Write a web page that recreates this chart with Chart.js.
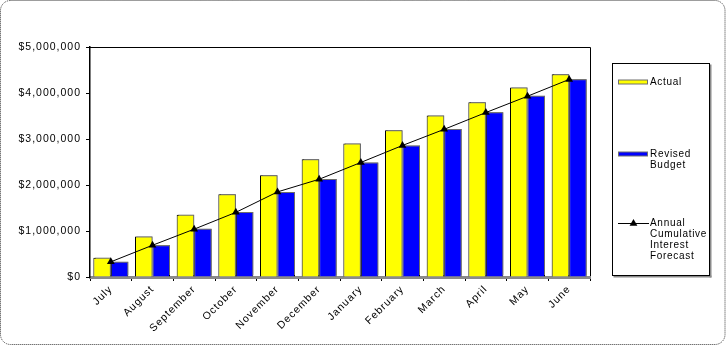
<!DOCTYPE html>
<html>
<head>
<meta charset="utf-8">
<script src="https://cdn.jsdelivr.net/npm/chart.js@4/dist/chart.umd.min.js"></script>
<style>
  html, body { margin: 0; padding: 0; background: #fff; }
  canvas { display: block; }
</style>
</head>
<body>
<canvas id="chart" width="726" height="346" style="width:726px;height:346px"></canvas>
<script>
// Monthly cumulative interest, fiscal year July - June
const months = ['July', 'August', 'September', 'October', 'November', 'December',
                'January', 'February', 'March', 'April', 'May', 'June'];
const actual = [420000, 880000, 1355000, 1800000, 2210000, 2560000,
                2900000, 3190000, 3510000, 3800000, 4120000, 4410000];
const revisedBudget = [330000, 690000, 1050000, 1415000, 1850000, 2130000,
                       2490000, 2860000, 3220000, 3580000, 3940000, 4300000];
const cumulativeForecast = [330000, 690000, 1040000, 1405000, 1850000, 2125000,
                            2490000, 2860000, 3210000, 3575000, 3930000, 4295000];
const yTicks = [0, 1000000, 2000000, 3000000, 4000000, 5000000];

const actualLabel = ['Actual'];
const budgetLabel = ['Revised', 'Budget'];
const forecastLabel = ['Annual', 'Cumulative', 'Interest', 'Forecast'];

const FONT_FAMILY = '"Liberation Sans", Arial, sans-serif';
Chart.defaults.font.family = FONT_FAMILY;
Chart.defaults.font.size = 10.5;
Chart.defaults.color = '#000';

// Wider letter spacing for all canvas text
const spacingPlugin = {
  id: 'spacing',
  beforeUpdate(chart) { chart.ctx.letterSpacing = '1px'; },
  beforeLayout(chart) { chart.ctx.letterSpacing = '1px'; },
  beforeDraw(chart) { chart.ctx.letterSpacing = '1px'; }
};

// White page with a dotted rounded frame
const framePlugin = {
  id: 'frame',
  beforeDraw(chart) {
    const ctx = chart.ctx;
    ctx.save();
    ctx.fillStyle = '#fff';
    ctx.fillRect(0, 0, chart.width, chart.height);
    ctx.strokeStyle = '#3a3a3a';
    ctx.lineWidth = 1;
    ctx.setLineDash([1, 1]);
    ctx.beginPath();
    ctx.roundRect(0.5, 0.5, chart.width - 1.5, chart.height - 2, 10);
    ctx.stroke();
    ctx.restore();
  },
  afterDraw(chart) {
    // top and right edges of the plot area
    const { ctx, chartArea: a } = chart;
    ctx.save();
    ctx.strokeStyle = '#000';
    ctx.lineWidth = 1;
    ctx.beginPath();
    ctx.moveTo(a.left, Math.round(a.top) + 0.5);
    ctx.lineTo(Math.round(a.right) + 0.5, Math.round(a.top) + 0.5);
    ctx.lineTo(Math.round(a.right) + 0.5, a.bottom - 1);
    ctx.stroke();
    ctx.restore();
  }
};

// Grey drop shadow behind the bars
const barShadowPlugin = {
  id: 'barShadow',
  beforeDatasetDraw(chart, args) {
    if (args.meta.type !== 'bar') return;
    const ctx = chart.ctx;
    ctx.save();
    ctx.shadowColor = 'rgba(120,120,120,0.9)';
    ctx.shadowOffsetX = 1.5;
    ctx.shadowOffsetY = -1.5;
    ctx.shadowBlur = 0;
  },
  afterDatasetDraw(chart, args) {
    if (args.meta.type !== 'bar') return;
    chart.ctx.restore();
  }
};

// Boxed legend on the right with multi-line entries
const sideLegendPlugin = {
  id: 'sideLegend',
  afterDraw(chart) {
    const ctx = chart.ctx;
    const box = { x: 612.5, y: 63.5, w: 97, h: 212 };
    ctx.save();
    // shadow
    ctx.fillStyle = '#8a8a8a';
    ctx.fillRect(box.x + box.w, box.y + 1, 2, box.h + 1);
    ctx.fillRect(box.x + 1, box.y + box.h, box.w + 1, 2);
    ctx.fillStyle = '#fff';
    ctx.fillRect(box.x, box.y, box.w, box.h);
    ctx.strokeStyle = '#000';
    ctx.lineWidth = 1;
    ctx.strokeRect(box.x, box.y, box.w, box.h);

    ctx.font = '10px ' + FONT_FAMILY;
    ctx.letterSpacing = '0.7px';
    ctx.textAlign = 'left';
    ctx.textBaseline = 'middle';
    ctx.fillStyle = '#000';
    const ds = chart.data.datasets;
    const byLabel = lbl => ds.find(d => d.label === lbl);
    const textX = 650;
    const lineH = 11;

    const entries = [
      { ds: byLabel(actualLabel), y: 82.5 },
      { ds: byLabel(budgetLabel), y: 154.5 },
      { ds: byLabel(forecastLabel), y: 223.5 }
    ];
    entries.forEach(e => {
      const d = e.ds;
      if (d.type === 'line') {
        ctx.strokeStyle = d.borderColor;
        ctx.lineWidth = 1;
        ctx.beginPath();
        ctx.moveTo(618, e.y);
        ctx.lineTo(649, e.y);
        ctx.stroke();
        const r = 4.5, cx = 633.5;
        ctx.fillStyle = d.pointBackgroundColor;
        ctx.beginPath();
        ctx.moveTo(cx, e.y - r);
        ctx.lineTo(cx + r * Math.sin(2 * Math.PI / 3), e.y + r / 2);
        ctx.lineTo(cx - r * Math.sin(2 * Math.PI / 3), e.y + r / 2);
        ctx.closePath();
        ctx.fill();
      } else {
        ctx.fillStyle = d.backgroundColor;
        ctx.fillRect(618.5, e.y - 2.5, 29, 4);
        ctx.strokeStyle = '#6e6e6e';
        ctx.lineWidth = 1;
        ctx.strokeRect(618.5, e.y - 2.5, 29, 4);
      }
      ctx.fillStyle = '#000';
      d.label.forEach((t, i) => ctx.fillText(t, textX, e.y + i * lineH));
    });
    ctx.restore();
  }
};

new Chart(document.getElementById('chart'), {
  type: 'bar',
  data: {
    labels: months,
    datasets: [
      {
        type: 'line',
        label: forecastLabel,
        data: cumulativeForecast,
        borderColor: '#000',
        borderWidth: 1,
        pointStyle: 'triangle',
        pointRadius: 4.5,
        pointBackgroundColor: '#000',
        pointBorderColor: '#000',
        pointBorderWidth: 0,
        tension: 0,
        order: 0
      },
      {
        label: actualLabel,
        data: actual,
        backgroundColor: '#ffff00',
        borderColor: '#000',
        borderWidth: 1,
        categoryPercentage: 0.84,
        barPercentage: 1.0,
        order: 1
      },
      {
        label: budgetLabel,
        data: revisedBudget,
        backgroundColor: '#0000ff',
        borderColor: '#000',
        borderWidth: 1,
        categoryPercentage: 0.84,
        barPercentage: 1.0,
        order: 1
      }
    ]
  },
  options: {
    responsive: false,
    animation: false,
    events: [],
    layout: { padding: { top: 47, right: 136, left: 0, bottom: 0 } },
    plugins: {
      legend: { display: false },
      tooltip: { enabled: false },
      title: { display: false }
    },
    scales: {
      x: {
        offset: true,
        afterFit(s) { s.height = 69; },
        grid: { offset: true, drawOnChartArea: false, drawTicks: true, tickLength: 4, color: '#000', lineWidth: 1 },
        border: { color: '#8a8a8a', width: 3 },
        ticks: { maxRotation: 45, minRotation: 45, padding: 2, autoSkip: false, color: '#000' }
      },
      y: {
        min: yTicks[0],
        max: yTicks[yTicks.length - 1],
        afterFit(s) { s.width = 90; },
        afterBuildTicks(s) { s.ticks = yTicks.map(v => ({ value: v })); },
        grid: { drawOnChartArea: false, drawTicks: true, tickLength: 4, color: '#000' },
        border: { color: '#000', width: 1.5 },
        ticks: {
          padding: 5,
          color: '#000',
          callback: v => '$' + Number(v).toLocaleString('en-US')
        }
      }
    }
  },
  plugins: [spacingPlugin, framePlugin, barShadowPlugin, sideLegendPlugin]
});
</script>
</body>
</html>
